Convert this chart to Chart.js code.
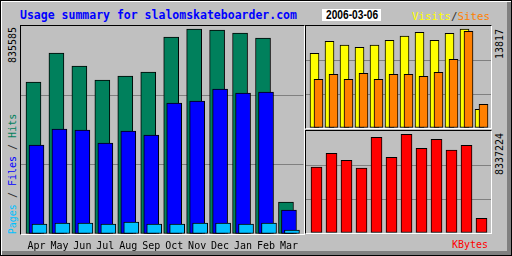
<!DOCTYPE html>
<html>
<head>
<meta charset="utf-8">
<script src="https://cdn.jsdelivr.net/npm/chart.js@4"></script>
<style>
body { margin: 0; background: #c0c0c0; }
#frame { position: absolute; left: 0; top: 0; width: 512px; height: 256px; box-sizing: border-box;
         border: 1px solid #000; background: #c0c0c0;
         box-shadow: inset 1px 1px 0 #fff, inset -4px -4px 0 #808080; }
.box { position: absolute; box-sizing: border-box;
       border-top: 1px solid #000; border-left: 1px solid #000;
       border-right: 1px solid #fff; border-bottom: 1px solid #fff; }
canvas { position: absolute; }
.t { position: absolute; white-space: nowrap; line-height: 1; font-family: "DejaVu Sans Mono", monospace; }
.rot { transform: translate(-50%, -50%) rotate(-90deg); }
</style>
</head>
<body>
<div id="frame"></div>
<div class="box" style="left:20px;top:25px;width:285px;height:210px"></div>
<div class="box" style="left:305px;top:25px;width:187px;height:104px"></div>
<div class="box" style="left:305px;top:130px;width:187px;height:104px"></div>

<canvas id="main" width="283" height="230" style="left:21px;top:26px"></canvas>
<canvas id="visits" width="185" height="102" style="left:306px;top:26px"></canvas>
<canvas id="kbytes" width="185" height="102" style="left:306px;top:131px"></canvas>

<div class="t" style="left:20px;top:10px;font-size:11.5px;font-weight:bold;color:#0000ff">Usage summary for slalomskateboarder.com</div>
<div style="position:absolute;left:322px;top:9px;width:59px;height:12px;background:#fff"></div>
<div class="t" id="date" style="left:326px;top:9px;font-family:'Liberation Sans',sans-serif;font-weight:bold;font-size:12.5px;color:#000;transform:scaleX(0.815);transform-origin:0 0"></div>
<div class="t" style="left:412px;top:12px;font-size:10.8px"><span style="color:#ffff00">Visits</span><span style="color:#303030">/</span><span style="color:#ff8000">Sites</span></div>

<div class="t rot" id="lblHits" style="left:13px;top:45px;font-size:10px;color:#000"></div>
<div class="t rot" style="left:13px;top:174px;font-size:10px"><span style="color:#00c0ff">Pages</span><span style="color:#303030"> / </span><span style="color:#0000ff">Files</span><span style="color:#303030"> / </span><span style="color:#00805c">Hits</span></div>
<div class="t rot" id="lblVisits" style="left:500px;top:44px;font-size:10px;color:#000"></div>
<div class="t rot" id="lblKbytes" style="left:500px;top:154px;font-size:10px;color:#000"></div>
<div class="t" style="left:452px;top:239.5px;font-size:10px;color:#ff0000">KBytes</div>

<script>
const months = ['Apr', 'May', 'Jun', 'Jul', 'Aug', 'Sep', 'Oct', 'Nov', 'Dec', 'Jan', 'Feb', 'Mar'];

const hits   = [619600, 737800, 684800, 627700, 644000, 660300, 803000, 835585, 831500, 819300, 798900, 130400];
const files  = [362800, 428000, 423900, 370900, 419800, 403500, 534000, 542100, 591000, 574700, 578800, 97800];
const pages  = [40800, 44800, 44800, 40800, 48900, 40800, 40800, 44800, 44800, 40800, 44800, 16300];

const visits = [10425, 12100, 11585, 11260, 11585, 12240, 12840, 13355, 12240, 13215, 13817, 2610];
const sites  = [6795, 7495, 6795, 7635, 6795, 7495, 7495, 7215, 7775, 9590, 13495, 3310];

const kbytes = [5575000, 6732000, 6141000, 5491000, 8084000, 6394000, 8337224, 7155000, 7915000, 7011000, 7408000, 1242000];

// labels printed at the top of each axis
const axisLabels = ['835585', '13817', '8337224'];
const reportDate = '2006-03-06';

document.getElementById('date').textContent = reportDate;
document.getElementById('lblHits').textContent = axisLabels[0];
document.getElementById('lblVisits').textContent = axisLabels[1];
document.getElementById('lblKbytes').textContent = axisLabels[2];

function pts(arr, shift) {
    return arr.map((v, i) => ({ x: i + shift, y: v }));
}

function bars(label, arr, shift, color, width, order) {
    return {
        label: label,
        data: pts(arr, shift),
        backgroundColor: color,
        borderColor: '#000',
        borderWidth: 1,
        borderSkipped: false,
        barThickness: width,
        grouped: false,
        order: order
    };
}

function makeChart(id, datasets, xmin, xmax, ymax, showMonths) {
    new Chart(document.getElementById(id), {
        type: 'bar',
        data: { datasets: datasets },
        options: {
            responsive: false,
            animation: false,
            events: [],
            layout: { padding: 0 },
            plugins: { legend: { display: false }, tooltip: { enabled: false } },
            scales: {
                x: {
                    type: 'linear',
                    min: xmin,
                    max: xmax,
                    offset: false,
                    display: showMonths,
                    grid: { display: false, drawTicks: false, offset: false },
                    border: { display: false },
                    afterBuildTicks: s => {
                        s.ticks = months.map((m, i) => ({ value: i }));
                    },
                    afterFit: s => { s.height = showMonths ? 22 : 0; },
                    ticks: {
                        autoSkip: false,
                        maxRotation: 0,
                        padding: 6,
                        color: '#000',
                        font: { family: 'DejaVu Sans Mono', size: 10 },
                        callback: v => months[Math.round(v)]
                    }
                },
                y: {
                    min: 0,
                    max: ymax,
                    ticks: { display: false, stepSize: ymax / 3 },
                    border: { display: false },
                    grid: {
                        drawTicks: false,
                        color: c => (c.index === 0 || c.index === 3) ? 'rgba(0,0,0,0)' : '#808080'
                    },
                    afterFit: s => { s.width = 0; }
                }
            }
        }
    });
}

makeChart('main', [
    bars('Hits', hits, -3 / 23, '#00805c', 15, 3),
    bars('Files', files, 0, '#0000ff', 15, 2),
    bars('Pages', pages, 3 / 23, '#00c0ff', 15, 1)
], -0.674, 11.63, 847800, true);

makeChart('visits', [
    bars('Visits', visits, -2 / 15, '#ffff00', 9, 2),
    bars('Sites', sites, 2 / 15, '#ff8000', 9, 1)
], -0.7, 11.633, 14235, false);

makeChart('kbytes', [
    bars('KBytes', kbytes, 0, '#ff0000', 11, 1)
], -0.7, 11.633, 8616000, false);
</script>
</body>
</html>
